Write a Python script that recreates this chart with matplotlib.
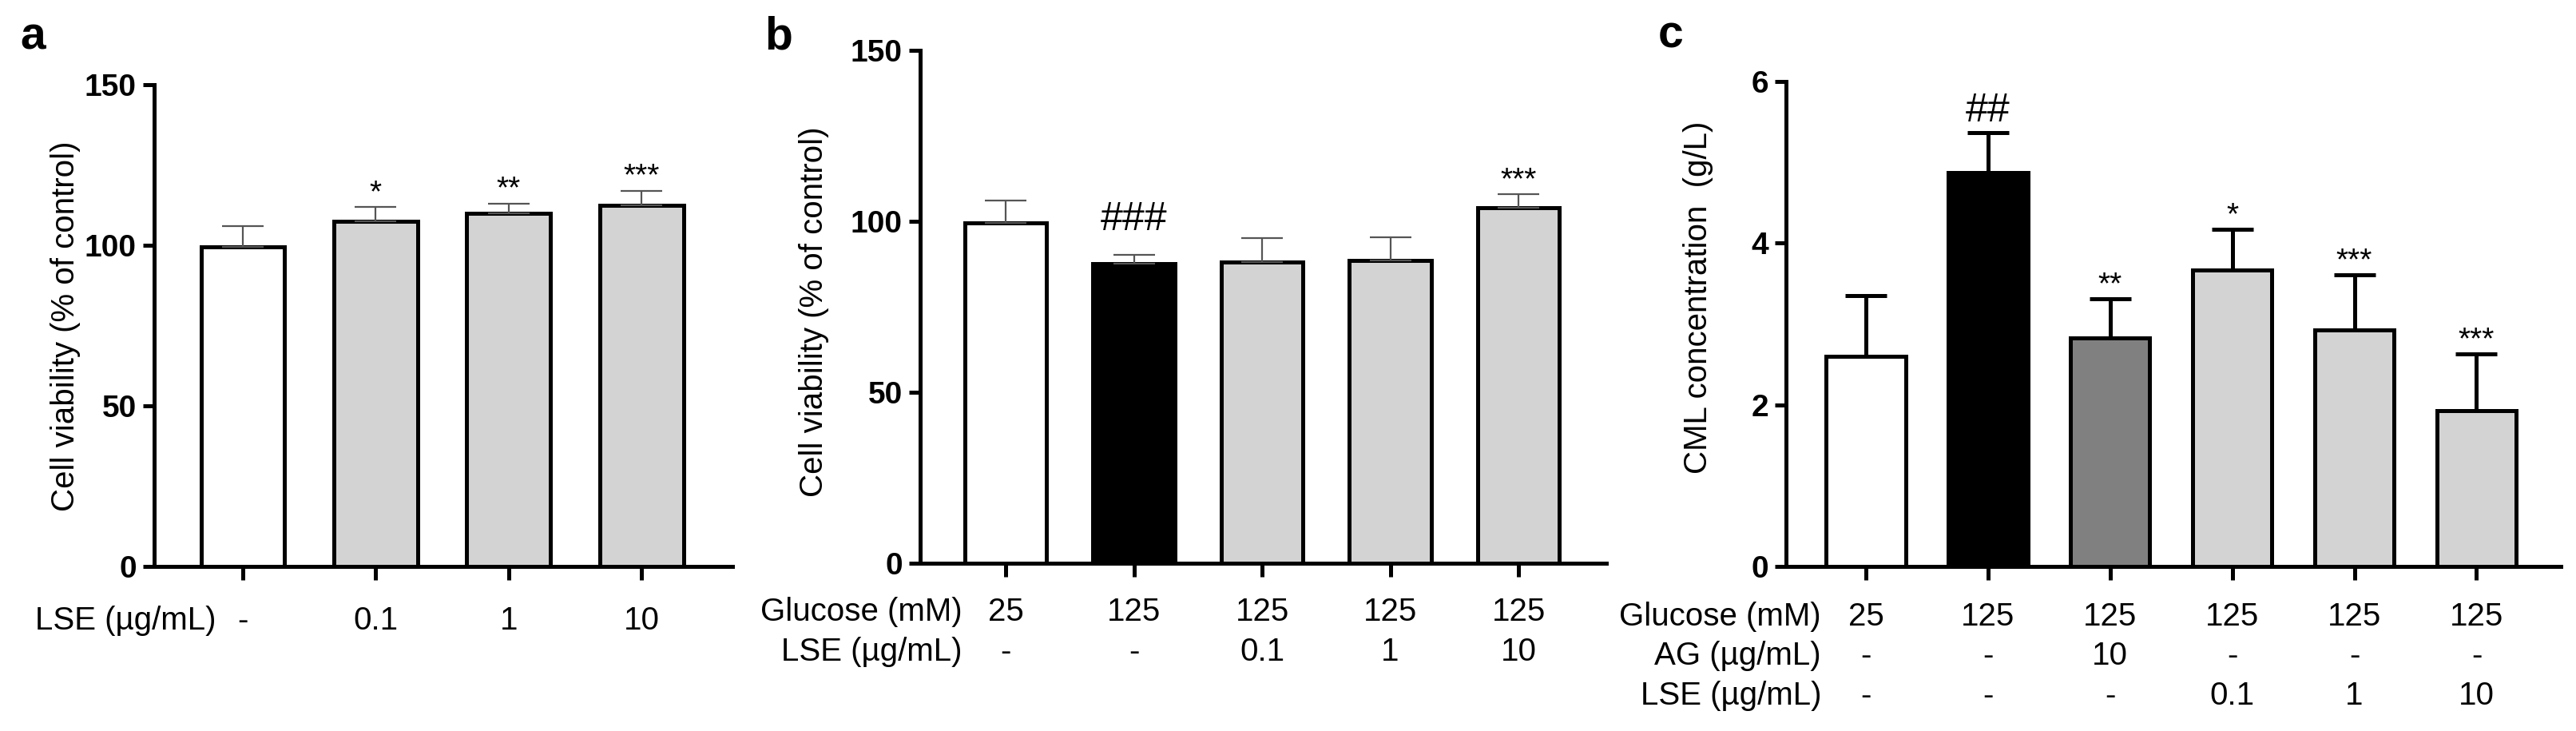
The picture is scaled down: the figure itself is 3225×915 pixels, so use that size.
import matplotlib
matplotlib.use('Agg')
import matplotlib.pyplot as plt
from matplotlib import font_manager
from matplotlib.transforms import blended_transform_factory
import numpy as np

plt.rcParams['font.family'] = ['Liberation Sans', 'DejaVu Sans']

W, H = 3225, 915

# ---- panel a: cell viability, LSE alone
a_means = [99.5, 107.5, 110, 112.5]
a_sd = [6.5, 4.5, 3, 4.5]
a_marks = ['', '*', '**', '***']
a_colors = ['white', '#d3d3d3', '#d3d3d3', '#d3d3d3']
a_yticks = [0, 50, 100, 150]
a_row_names = ['LSE (µg/mL)']
a_rows = [['-', '0.1', '1', '10']]

# ---- panel b: cell viability under high glucose
b_means = [99.5, 87.5, 88, 88.5, 104]
b_sd = [6.5, 2.8, 7, 6.8, 4]
b_marks = ['', '###', '', '', '***']
b_colors = ['white', 'black', '#d3d3d3', '#d3d3d3', '#d3d3d3']
b_yticks = [0, 50, 100, 150]
b_row_names = ['Glucose (mM)', 'LSE (µg/mL)']
b_rows = [['25', '125', '125', '125', '125'],
          ['-', '-', '0.1', '1', '10']]

# ---- panel c: CML concentration
c_means = [2.6, 4.87, 2.83, 3.67, 2.93, 1.93]
c_sd = [0.75, 0.5, 0.48, 0.5, 0.68, 0.7]
c_marks = ['', '##', '**', '*', '***', '***']
c_colors = ['white', 'black', '#808080', '#d3d3d3', '#d3d3d3', '#d3d3d3']
c_yticks = [0, 2, 4, 6]
c_row_names = ['Glucose (mM)', 'AG (µg/mL)', 'LSE (µg/mL)']
c_rows = [['25', '125', '125', '125', '125', '125'],
          ['-', '-', '10', '-', '-', '-'],
          ['-', '-', '-', '0.1', '1', '10']]

LW = 3.6


def pick_tick_font():
    # the y tick numbers are Arial Narrow bold; use Liberation Sans Narrow if present
    for f in font_manager.fontManager.ttflist:
        if f.name == 'Liberation Sans Narrow' and f.weight in (700, 'bold') and f.style == 'normal':
            return font_manager.FontProperties(fname=f.fname, size=32)
    return font_manager.FontProperties(family='Liberation Sans', weight='bold', size=28)


TICK_FP = pick_tick_font()


def px_axes(fig, left, right, top, bottom):
    return fig.add_axes([left / W, 1 - bottom / H, (right - left) / W, (bottom - top) / H])


def draw_panel(fig, ax, means, sd, marks, colors, yticks, row_names, rows,
               xlim, width, ylabel, ylabel_xy, letter, letter_xy,
               row_base, row_label_x, err_style, hash_off):
    n = len(means)
    x = np.arange(n)
    ax.bar(x, means, width=width, color=colors, edgecolor='black',
           linewidth=LW, zorder=2)
    ax.errorbar(x, means, yerr=[np.zeros(n), sd], fmt='none', zorder=3, **err_style)

    tops = np.array(means) + np.array(sd)
    for i, m in enumerate(marks):
        if not m:
            continue
        if m.startswith('#'):
            ax.annotate(m, (i, tops[i]), xytext=(0, hash_off), textcoords='offset points',
                        ha='center', va='baseline', fontsize=36)
        else:
            ax.annotate(m, (i, tops[i]), xytext=(0, 5), textcoords='offset points',
                        ha='center', va='baseline', fontsize=28)

    ax.set_xlim(*xlim)
    ax.set_ylim(yticks[0], yticks[-1])
    ax.set_xticks(x)
    ax.set_yticks(yticks, labels=[str(t) for t in yticks])
    for lbl in ax.get_yticklabels():
        lbl.set_fontproperties(TICK_FP)
    ax.tick_params(axis='y', length=10, width=LW, pad=6)
    ax.tick_params(axis='x', length=12, width=LW, labelbottom=False)
    for s in ['top', 'right']:
        ax.spines[s].set_visible(False)
    for s in ['left', 'bottom']:
        ax.spines[s].set_linewidth(LW)

    trans = blended_transform_factory(ax.transData, fig.transFigure)
    for name, vals, yb in zip(row_names, rows, row_base):
        fig.text(row_label_x / W, 1 - yb / H, name, ha='right', va='baseline', fontsize=29)
        for i, v in enumerate(vals):
            ax.text(i, 1 - yb / H, v, transform=trans, ha='center', va='baseline', fontsize=29)

    fig.text(ylabel_xy[0] / W, 1 - ylabel_xy[1] / H, ylabel, rotation=90,
             ha='center', va='center', fontsize=29)
    fig.text(letter_xy[0] / W, 1 - letter_xy[1] / H, letter, fontsize=41,
             fontweight='bold', ha='left', va='baseline')


fig = plt.figure(figsize=(W / 100, H / 100), dpi=100)

thin_err = dict(ecolor='#555555', elinewidth=1.6, capsize=19, capthick=1.6)
thick_err = dict(ecolor='black', elinewidth=LW, capsize=19, capthick=LW)

ax_a = px_axes(fig, 193, 917, 106, 709)
draw_panel(fig, ax_a, a_means, a_sd, a_marks, a_colors, a_yticks, a_row_names, a_rows,
           (-0.667, 3.684), 0.63, 'Cell viability (% of control)', (82, 408),
           'a', (25, 62), [788], 270, thin_err, 10)

ax_b = px_axes(fig, 1152, 2011, 63, 705)
draw_panel(fig, ax_b, b_means, b_sd, b_marks, b_colors, b_yticks, b_row_names, b_rows,
           (-0.667, 4.685), 0.64, 'Cell viability (% of control)', (1019, 390),
           'b', (957, 62), [777, 827], 1205, thin_err, 22)

ax_c = px_axes(fig, 2236, 3206, 102, 709)
draw_panel(fig, ax_c, c_means, c_sd, c_marks, c_colors, c_yticks, c_row_names, c_rows,
           (-0.654, 5.69), 0.65, 'CML concentration  (g/L)', (2126, 372),
           'c', (2076, 60), [783, 832, 882], 2280, thick_err, 10)

fig.savefig('out.png', dpi=100)
